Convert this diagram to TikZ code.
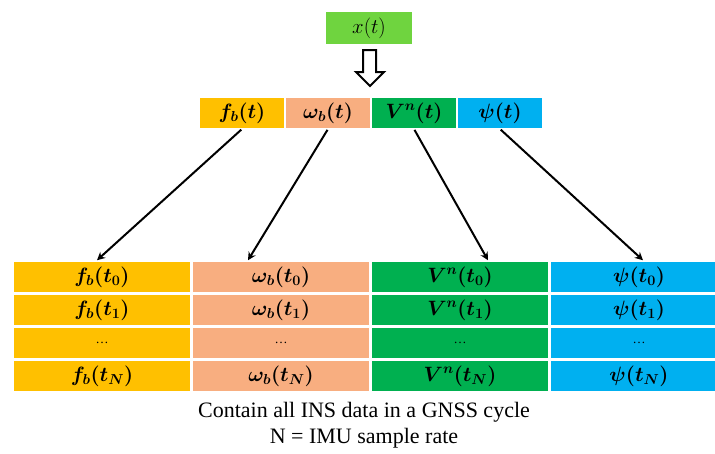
\documentclass[tikz,border=0pt]{standalone}
\usepackage{fontspec}
\setmainfont{Liberation Serif}
\usepackage{bm}
\usetikzlibrary{positioning,arrows.meta}

\definecolor{orangeC}{HTML}{FFC000}
\definecolor{salmonC}{HTML}{F8AE80}
\definecolor{greenC}{HTML}{00B050}
\definecolor{blueC}{HTML}{00B0F0}
\definecolor{limeC}{HTML}{6FD43F}

\begin{document}
\begin{tikzpicture}[x=1pt,y=-1pt]
  \useasboundingbox (0,0) rectangle (715,453);
  \tikzset{
    hdr/.style={draw=white, line width=1pt, minimum width=85pt, minimum height=31pt,
      inner sep=0pt, font=\fontsize{20}{22}\selectfont},
    cell/.style={draw=white, line width=1.5pt, minimum width=178pt, minimum height=32pt,
      inner sep=0pt, font=\fontsize{20}{22}\selectfont},
    link/.style={-{Stealth[length=8pt,width=8pt]}, line width=2pt}
  }

  % Input signal
  \node[hdr, fill=limeC, minimum width=87pt, minimum height=33pt] (xt) at (369,28) {$x(t)$};

  % Hollow arrow
  \draw[line width=2pt, fill=white] (363,50) -- (376,50) -- (376,72) -- (384,72)
    -- (370,86) -- (356,72) -- (363,72) -- cycle;

  % Split into components
  \node[hdr, fill=orangeC] (fb) at (242,113) {$\bm{f_b(t)}$};
  \node[hdr, fill=salmonC, right=0pt of fb] (wb) {$\bm{\omega_b(t)}$};
  \node[hdr, fill=greenC, right=0pt of wb] (vn) {$\bm{V^n(t)}$};
  \node[hdr, fill=blueC, right=0pt of vn] (ps) {$\bm{\psi(t)}$};

  % Table of samples
  \foreach \sym/\col [count=\i] in {f_b/orangeC, \omega_b/salmonC, V^n/greenC, \psi/blueC} {
    \node[cell, fill=\col] (c\i-0) at ({102+179*(\i-1)},277) {$\bm{\sym(t_0)}$};
    \node[cell, fill=\col] (c\i-1) at ({102+179*(\i-1)},310) {$\bm{\sym(t_1)}$};
    \node[cell, fill=\col] (c\i-2) at ({102+179*(\i-1)},343) {\fontsize{13}{14}\selectfont\ldots};
    \node[cell, fill=\col] (c\i-3) at ({102+179*(\i-1)},376) {$\bm{\sym(t_N)}$};
  }

  % Arrows down to the table
  \draw[link, shorten <=1pt] (fb.south) -- ([xshift=-5pt]c1-0.north);
  \draw[link, shorten <=1pt] (wb.south) -- ([xshift=-33pt]c2-0.north);
  \draw[link, shorten <=1pt] (vn.south) -- ([xshift=28pt]c3-0.north);
  \draw[link, shorten <=1pt] (ps.south) -- ([xshift=4pt]c4-0.north);

  % Caption
  \node[font=\fontsize{22}{26}\selectfont, align=center] (note) at (364,425)
    {Contain all INS data in a GNSS cycle\\N = IMU sample rate};
\end{tikzpicture}
\end{document}
